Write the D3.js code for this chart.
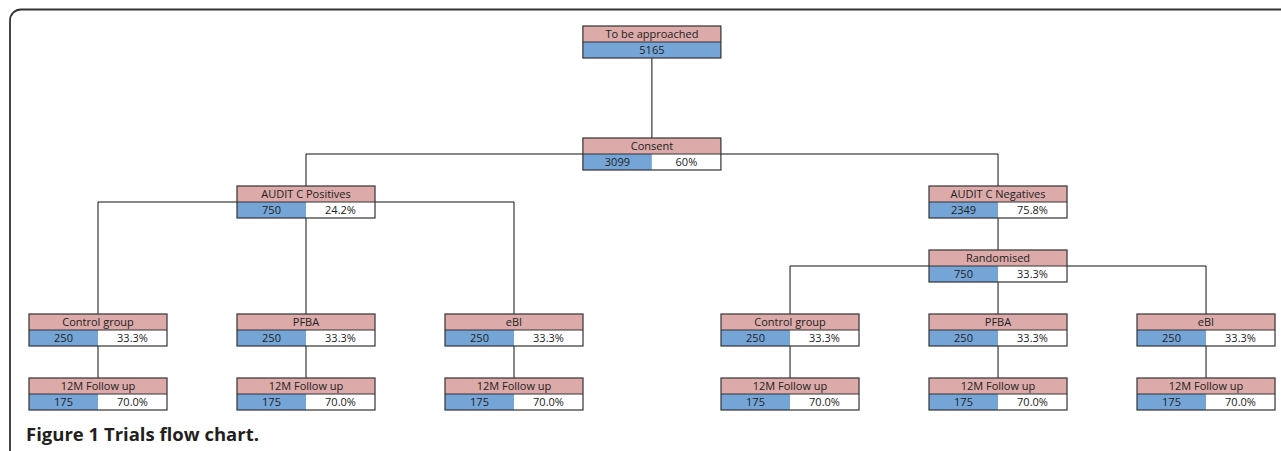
<!DOCTYPE html>
<html>
<head>
<meta charset="utf-8">
<script src="https://cdn.jsdelivr.net/npm/d3@7"></script>
<style>
  body { margin: 0; background: #fff; }
  svg { display: block; }
  .lbl { font-family: "Open Sans", sans-serif; font-size: 11px; fill: #222; }
  .cap { font-family: "Open Sans", sans-serif; font-size: 18.5px; font-weight: bold; fill: #231f20; }
</style>
</head>
<body>
<svg id="flow" width="1281" height="451"></svg>
<script>
// node data
var ids    = ["top", "consent", "pos", "neg", "rand", "pc", "pp", "pe", "nc", "np", "ne", "pc12", "pp12", "pe12", "nc12", "np12", "ne12"];
var labels = ["To be approached", "Consent", "AUDIT C Positives", "AUDIT C Negatives", "Randomised",
              "Control group", "PFBA", "eBI", "Control group", "PFBA", "eBI",
              "12M Follow up", "12M Follow up", "12M Follow up", "12M Follow up", "12M Follow up", "12M Follow up"];
var counts = [5165, 3099, 750, 2349, 750, 250, 250, 250, 250, 250, 250, 175, 175, 175, 175, 175, 175];
var pcts   = [null, "60%", "24.2%", "75.8%", "33.3%", "33.3%", "33.3%", "33.3%", "33.3%", "33.3%", "33.3%",
              "70.0%", "70.0%", "70.0%", "70.0%", "70.0%", "70.0%"];
var parents = [null, "top", "consent", "consent", "neg", "pos", "pos", "pos", "rand", "rand", "rand",
               "pc", "pp", "pe", "nc", "np", "ne"];
// column slot and tree level of each node
var slots  = [2.663, 2.663, 1, 4.327, 4.327, 0, 1, 2, 3.327, 4.327, 5.327, 0, 1, 2, 3.327, 4.327, 5.327];
var levels = [0, 1.75, 2.5, 2.5, 3.5, 4.5, 4.5, 4.5, 4.5, 4.5, 4.5, 5.5, 5.5, 5.5, 5.5, 5.5, 5.5];

var boxW = 138, rowH = 16;
var pink = "#dcaaa9", blue = "#74a5d6";

var x = d3.scaleLinear().domain([0, 1]).range([98, 306]);
var y = d3.scaleLinear().domain([0, 1]).range([26, 90]);

var nodes = ids.map(function(id, i){
  return { id: id, label: labels[i], n: counts[i], pct: pcts[i], parent: parents[i],
           cx: x(slots[i]), top: y(levels[i]) };
});
var byId = {};
nodes.forEach(function(d){ byId[d.id] = d; });

var svg = d3.select("#flow");

// outer frame
svg.append("rect")
  .attr("x", 10).attr("y", 9.5)
  .attr("width", 1400).attr("height", 600)
  .attr("rx", 11).attr("ry", 11)
  .attr("fill", "none").attr("stroke", "#333").attr("stroke-width", 1.8);

// connectors (behind boxes)
svg.append("g").selectAll("path")
  .data(nodes.filter(function(d){ return d.parent; }))
  .enter().append("path")
  .attr("fill", "none").attr("stroke", "#111").attr("stroke-width", 1)
  .attr("d", function(d){
    var p = byId[d.parent];
    return "M" + p.cx + "," + (p.top + rowH) + "H" + d.cx + "V" + d.top;
  });

// boxes
var g = svg.append("g").selectAll("g")
  .data(nodes).enter().append("g")
  .attr("transform", function(d){ return "translate(" + (d.cx - boxW / 2) + "," + d.top + ")"; });

g.append("rect").attr("width", boxW).attr("height", rowH).attr("fill", pink);
g.append("rect").attr("y", rowH)
  .attr("width", function(d){ return d.pct ? boxW / 2 : boxW; })
  .attr("height", rowH).attr("fill", blue);
g.filter(function(d){ return d.pct; }).append("rect")
  .attr("x", boxW / 2).attr("y", rowH)
  .attr("width", boxW / 2).attr("height", rowH).attr("fill", "#fff");
g.append("line").attr("x1", 0).attr("x2", boxW).attr("y1", rowH).attr("y2", rowH)
  .attr("stroke", "#333").attr("stroke-width", 1);
g.append("rect").attr("width", boxW).attr("height", rowH * 2)
  .attr("fill", "none").attr("stroke", "#333").attr("stroke-width", 1.2);

g.append("text").attr("class", "lbl")
  .attr("x", boxW / 2).attr("y", 12)
  .attr("text-anchor", "middle").text(function(d){ return d.label; });
g.append("text").attr("class", "lbl")
  .attr("x", function(d){ return d.pct ? boxW / 4 : boxW / 2; })
  .attr("y", rowH + 12).attr("text-anchor", "middle")
  .text(function(d){ return d.n; });
g.filter(function(d){ return d.pct; }).append("text").attr("class", "lbl")
  .attr("x", boxW * 3 / 4).attr("y", rowH + 12).attr("text-anchor", "middle")
  .text(function(d){ return d.pct; });

// caption
svg.append("text").attr("class", "cap")
  .attr("x", 26).attr("y", 441)
  .text("Figure 1 Trials flow chart.");
</script>
</body>
</html>
